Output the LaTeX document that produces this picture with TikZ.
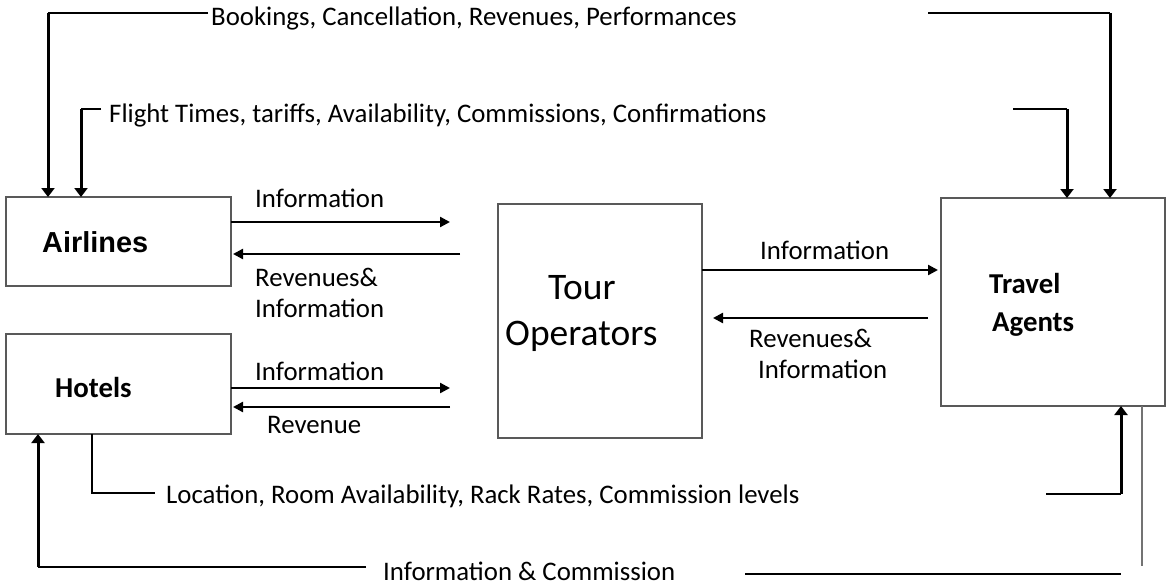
\documentclass[tikz,border=0pt]{standalone}
\usepackage{fontspec}
\setmainfont{Carlito}
\newfontfamily\arialfont{Liberation Sans}
\usetikzlibrary{arrows.meta}
\tikzset{
 box/.style={draw=black!65, line width=1.2pt, inner sep=0pt, outer sep=0pt, anchor=north west},
 lbl/.style={anchor=base west, inner sep=0pt, font=\fontsize{26.8}{30}\selectfont},
 boldlbl/.style={anchor=base west, inner sep=0pt, font=\fontsize{28.8}{32}\selectfont\bfseries},
 hflow/.style={line width=2.3pt, -{Triangle[length=10pt,width=10pt]}},
 vflow/.style={line width=3pt, -{Triangle[length=9pt,width=13pt]}},
 feed/.style={line width=1.1pt},
 medline/.style={line width=1.8pt},
 greyline/.style={line width=1.4pt, draw=black!55},
}
\begin{document}
\begin{tikzpicture}[x=1pt,y=-1pt]
\useasboundingbox (0,0) rectangle (1166,586);
% boxes
\node[box, minimum width=225pt, minimum height=89pt] (air) at (6,197) {};
\node[box, minimum width=225pt, minimum height=100pt] (hot) at (6,334) {};
\node[box, minimum width=204pt, minimum height=234pt] (to) at (498,204) {};
\node[box, minimum width=224pt, minimum height=208pt] (ta) at (941,198) {};
% box texts
\node[anchor=base west, inner sep=0pt, font=\arialfont\fontsize{28.9}{32}\selectfont\bfseries] (tair) at (42,252) {Airlines};
\node[boldlbl] (thot) at (55,397) {Hotels};
\node[anchor=base west, inner sep=0pt, font=\fontsize{37.5}{44}\selectfont] (tto1) at (548,299) {Tour};
\node[anchor=base west, inner sep=0pt, font=\fontsize{37.5}{44}\selectfont] (tto2) at (505,345) {Operators};
\node[boldlbl] (tta1) at (989,293) {Travel};
\node[boldlbl] (tta2) at (992,331) {Agents};
% labels
\node[lbl] (tbook) at (211,26) {Bookings, Cancellation, Revenues, Performances};
\node[lbl] (tflight) at (109,122) {Flight Times, tariffs, Availability, Commissions, Confirmations};
\node[lbl] (tai) at (255,207) {Information};
\node[lbl] (tar1) at (255,286) {Revenues\&};
\node[lbl] (tar2) at (255,317) {Information};
\node[lbl] (thi) at (255,380) {Information};
\node[lbl] (thr) at (267,433) {Revenue};
\node[lbl] (tti) at (760,259) {Information};
\node[lbl] (ttr1) at (749,347) {Revenues\&};
\node[lbl] (ttr2) at (758,378) {Information};
\node[lbl] (tloc) at (166,503) {Location, Room Availability, Rack Rates, Commission levels};
\node[lbl] (tinf) at (383,580) {Information \& Commission};
% coordinates
\coordinate (b0) at (208,13);
\coordinate (b1) at (48,13);
\coordinate (b2) at (928,13);
\coordinate (b3) at (1110,13);
\coordinate (f0) at (101,109);
\coordinate (f1) at (81,109);
\coordinate (f2) at (1013,109);
\coordinate (f3) at (1067,109);
\coordinate (l0) at (92,493);
\coordinate (l1) at (155,493);
\coordinate (l2) at (1046,494);
\coordinate (l3) at (1121,494);
\coordinate (c0) at (366,567);
\coordinate (c1) at (38,567);
\coordinate (c2) at (745,574);
\coordinate (c3) at (1121,574);
\coordinate (c4) at (1142,566);
\coordinate (ai) at (450,222);
\coordinate (ar) at (460,254);
\coordinate (hi) at (450,388);
\coordinate (hr) at (450,407);
\coordinate (ti) at (820,270);
\coordinate (tr0) at (928,318);
\coordinate (tr1) at (713,318);
% top feeds
\draw[feed] (b0) -- (b1);
\draw[vflow] (b1) -- (b1 |- air.north);
\draw[feed] (b2) -- (b3);
\draw[vflow] (b3) -- (b3 |- ta.north);
\draw[feed] (f0) -- (f1);
\draw[vflow] (f1) -- (f1 |- air.north);
\draw[feed] (f2) -- (f3);
\draw[vflow] (f3) -- (f3 |- ta.north);
% bottom feeds
\draw[feed] (l0 |- hot.south) -- (l0) -- (l1);
\draw[feed] (l2) -- (l3);
\draw[vflow] (l3) -- (l3 |- ta.south);
\draw[medline] (c0) -- (c1);
\draw[vflow] (c1) -- (c1 |- hot.south);
\draw[medline] (c2) -- (c3);
\draw[greyline] (c4 |- ta.south) -- (c4);
% horizontal flows
\draw[hflow] (air.east |- ai) -- (ai);
\draw[hflow] (ar) -- ([xshift=2pt]air.east |- ar);
\draw[hflow] (hot.east |- hi) -- (hi);
\draw[hflow] (hr) -- ([xshift=2pt]hot.east |- hr);
\draw[hflow] (to.east |- ti) -- ([xshift=-3pt]ta.west |- ti);
\draw[hflow] (tr0) -- (tr1);
\end{tikzpicture}
\end{document}
